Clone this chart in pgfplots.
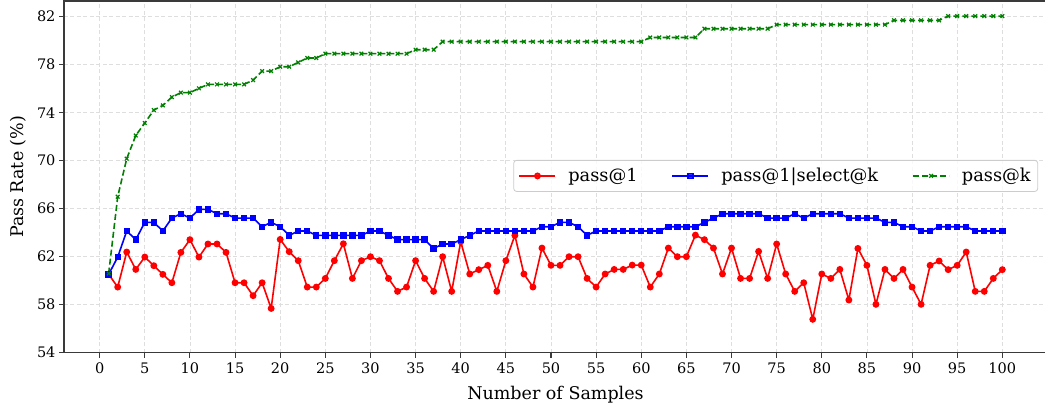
\documentclass[border=0pt]{standalone}
\usepackage{fontspec}
\setmainfont{DejaVu Serif}
\usepackage{pgfplots}
\usepackage{pgfplotstable}
\pgfplotsset{compat=1.18}

\definecolor{gridgray}{HTML}{DEDEDE}
\definecolor{spine}{HTML}{3A3A3A}
\definecolor{mplgreen}{HTML}{008000}

% k = number of samples; p1 = pass@1, sel = pass@1|select@k, pk = pass@k
\pgfplotstableread{
k p1 sel pk
1 60.53 60.53 60.60
2 59.47 61.97 67.00
3 62.39 64.14 70.17
4 60.94 63.42 72.10
5 61.97 64.86 73.14
6 61.25 64.86 74.22
7 60.53 64.14 74.61
8 59.83 65.22 75.30
9 62.36 65.58 75.67
10 63.42 65.22 75.67
11 61.97 65.94 76.03
12 63.06 65.94 76.36
13 63.06 65.58 76.36
14 62.36 65.58 76.36
15 59.83 65.22 76.36
16 59.83 65.22 76.36
17 58.75 65.22 76.72
18 59.83 64.50 77.47
19 57.69 64.86 77.47
20 63.44 64.50 77.83
21 62.42 63.78 77.83
22 61.67 64.14 78.19
23 59.47 64.14 78.56
24 59.47 63.78 78.56
25 60.19 63.78 78.92
26 61.67 63.78 78.92
27 63.08 63.78 78.92
28 60.19 63.78 78.92
29 61.67 63.78 78.92
30 62.00 64.14 78.92
31 61.67 64.14 78.92
32 60.19 63.78 78.92
33 59.11 63.42 78.92
34 59.47 63.42 78.92
35 61.67 63.42 79.25
36 60.19 63.42 79.25
37 59.11 62.69 79.25
38 62.00 63.06 79.92
39 59.11 63.06 79.92
40 63.25 63.42 79.92
41 60.56 63.78 79.92
42 60.92 64.14 79.92
43 61.28 64.14 79.92
44 59.11 64.14 79.92
45 61.67 64.14 79.92
46 63.78 64.14 79.92
47 60.56 64.14 79.92
48 59.47 64.14 79.92
49 62.72 64.50 79.92
50 61.28 64.50 79.92
51 61.28 64.86 79.92
52 62.00 64.86 79.92
53 62.00 64.50 79.92
54 60.19 63.78 79.92
55 59.47 64.14 79.92
56 60.56 64.14 79.92
57 60.94 64.14 79.92
58 60.94 64.14 79.92
59 61.30 64.14 79.92
60 61.30 64.14 79.92
61 59.47 64.14 80.27
62 60.56 64.14 80.27
63 62.72 64.50 80.27
64 62.00 64.50 80.27
65 62.00 64.50 80.27
66 63.80 64.50 80.27
67 63.42 64.86 81.00
68 62.72 65.22 81.00
69 60.56 65.58 81.00
70 62.72 65.58 81.00
71 60.19 65.58 81.00
72 60.19 65.58 81.00
73 62.44 65.58 81.00
74 60.19 65.22 81.00
75 63.06 65.22 81.34
76 60.56 65.22 81.34
77 59.11 65.58 81.34
78 59.83 65.22 81.34
79 56.78 65.58 81.34
80 60.56 65.58 81.34
81 60.19 65.58 81.34
82 60.94 65.58 81.34
83 58.39 65.22 81.34
84 62.69 65.22 81.34
85 61.28 65.22 81.34
86 58.03 65.22 81.34
87 60.94 64.86 81.34
88 60.19 64.86 81.70
89 60.94 64.50 81.70
90 59.47 64.50 81.70
91 58.03 64.14 81.70
92 61.28 64.14 81.70
93 61.64 64.50 81.70
94 60.92 64.50 82.05
95 61.28 64.50 82.05
96 62.39 64.50 82.05
97 59.11 64.14 82.05
98 59.11 64.14 82.05
99 60.19 64.14 82.05
100 60.92 64.14 82.05
}\passdata

\begin{document}
\begin{tikzpicture}
\begin{axis}[
    scale only axis,
    width=983pt, height=351.7pt,
    xmin=-3.95, xmax=104.95,
    ymin=54, ymax=83.31,
    xtick={0,5,...,100},
    ytick={54,58,...,82},
    /pgf/number format/assume math mode=true,
    tick label style={font=\fontsize{14.5}{17}\selectfont},
    label style={font=\fontsize{17.5}{21}\selectfont},
    xlabel={Number of Samples},
    ylabel={Pass Rate (\%)},
    xlabel shift=6pt,
    ylabel shift=3.5pt,
    xticklabel shift=1.5pt,
    grid=major,
    major grid style={gridgray, line width=0.8pt, dash pattern=on 4pt off 2.5pt},
    axis line style={spine, line width=1.1pt},
    tick style={spine, line width=1.1pt},
    major tick length=5pt,
    tick align=outside,
    xtick pos=bottom, ytick pos=left,
    legend columns=3,
    legend cell align=left,
    legend image code/.code={\draw[mark repeat=2,mark phase=2,#1] plot coordinates {(0pt,0pt) (18pt,0pt) (36pt,0pt)};},
    legend style={
        at={(0.991,0.548)}, anchor=north east,
        draw=black!20, rounded corners=3pt, line width=0.8pt,
        fill=white, fill opacity=0.8, text opacity=1,
        font=\fontsize{17.8}{21}\selectfont,
        inner xsep=5pt, inner ysep=6pt,
        /tikz/every odd column/.append style={column sep=10pt},
        /tikz/every even column/.append style={column sep=32pt},
    },
]
\addplot[red, line width=1.6pt, mark=*, mark size=2.6pt]
    table[x=k, y=p1] {\passdata};
\addlegendentry{pass@1}
\addplot[blue, line width=1.6pt, mark=square*, mark size=2.4pt]
    table[x=k, y=sel] {\passdata};
\addlegendentry{pass@1|select@k}
\addplot[mplgreen, line width=1.6pt, dash pattern=on 6pt off 3pt, mark=x, mark size=2.6pt,
    mark options={solid, line width=1.2pt}]
    table[x=k, y=pk] {\passdata};
\addlegendentry{pass@k}
\coordinate (bl) at (rel axis cs:0,0);
\coordinate (tr) at (rel axis cs:1,1);
\end{axis}
\pgfresetboundingbox
\path[use as bounding box] ([xshift=-64pt,yshift=-53.3pt]bl) rectangle ([xshift=-2pt,yshift=1pt]tr);
\end{tikzpicture}
\end{document}
